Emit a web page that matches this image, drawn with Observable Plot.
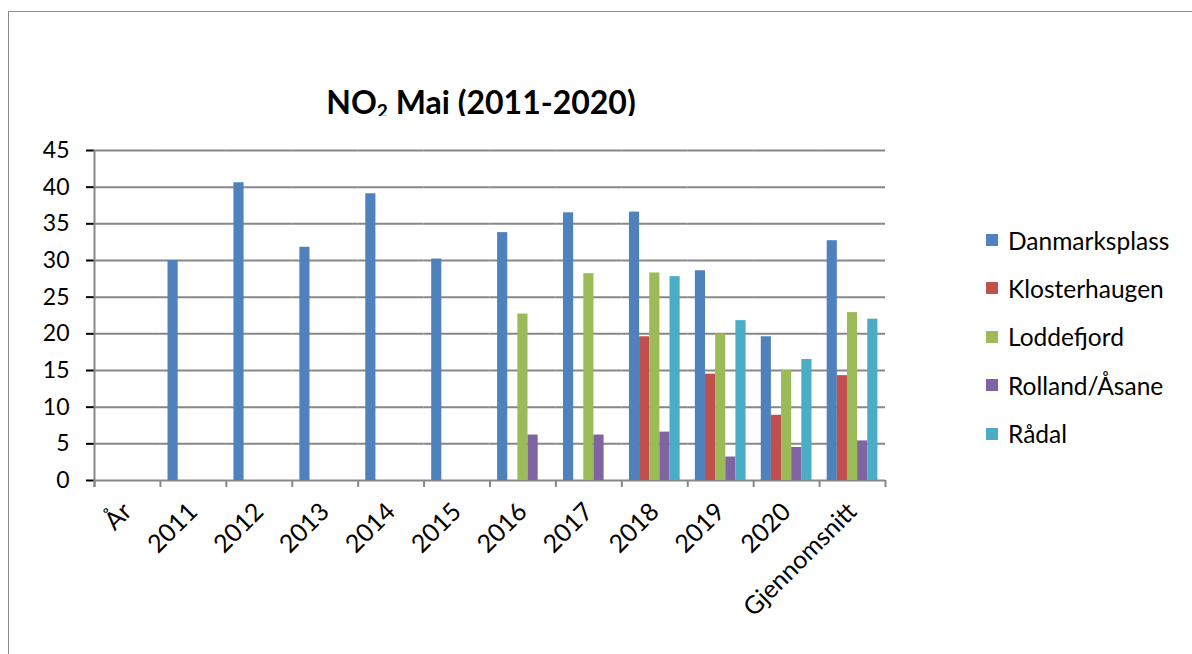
<!DOCTYPE html>
<html><head><meta charset="utf-8">
<script src="https://cdn.jsdelivr.net/npm/d3@7"></script>
<script src="https://cdn.jsdelivr.net/npm/@observablehq/plot@0.6"></script>
<style>
html,body{margin:0;padding:0;background:#fff;overflow:hidden;width:1192px;height:654px;}
#wrap{position:relative;width:1192px;height:654px;overflow:hidden;font-family:Lato,sans-serif;color:#000;}
#frame{position:absolute;left:8px;top:11px;width:1300px;height:800px;border:1.5px solid #8c8c8c;}
#chart{position:absolute;left:0;top:0;}
#title{position:absolute;left:0;width:962px;top:86px;height:30px;overflow:hidden;text-align:center;font-weight:bold;font-size:32px;line-height:32px;}
#title sub{font-size:60%;vertical-align:-4px;line-height:0;}
.lg{position:absolute;left:986px;height:26px;display:flex;align-items:center;font-size:24.5px;white-space:nowrap;}
.lg span.sw{display:inline-block;width:12px;height:12px;margin-right:10px;}
g[aria-label="y-axis tick"]{stroke:#878787;stroke-width:2;}
g[aria-label="fx-axis tick label"]{font-size:25px;}
</style></head>
<body><div id="wrap"><div id="frame"></div><div id="chart"></div><div id="title">NO<sub>2</sub> Mai (2011-2020)</div></div>
<script>
const categories = ["År","2011","2012","2013","2014","2015","2016","2017","2018","2019","2020","Gjennomsnitt"];
const seriesNames = ["Danmarksplass","Klosterhaugen","Loddefjord","Rolland/Åsane","Rådal"];
const seriesColors = ["#4F81BD","#C0504D","#9BBB59","#8064A2","#4BACC6"];
const danmarksplass = [null,30.0,40.6,31.8,39.1,30.2,33.8,36.5,36.6,28.6,19.6,32.7];
const klosterhaugen = [null,null,null,null,null,null,null,null,19.6,14.5,8.9,14.3];
const loddefjord   = [null,null,null,null,null,null,22.7,28.2,28.3,20.0,15.0,22.9];
const rollandAasane = [null,null,null,null,null,null,6.2,6.2,6.6,3.2,4.5,5.4];
const raadal       = [null,null,null,null,null,null,null,null,27.8,21.8,16.5,22.0];
const yTicks = [0,5,10,15,20,25,30,35,40,45];

const seriesValues = [danmarksplass, klosterhaugen, loddefjord, rollandAasane, raadal];
const rows = [];
seriesNames.forEach((s, si) => {
  seriesValues[si].forEach((v, ci) => {
    if (v != null) rows.push({category: categories[ci], series: s, value: v});
  });
});

const W = 1192, H = 654, mL = 94, mR = 307, mT = 150, mB = 174;
const fw = (W - mL - mR) / categories.length;
const gray = "#878787";

const chart = Plot.plot({
  width: W, height: H,
  marginLeft: mL, marginRight: mR, marginTop: mT, marginBottom: mB,
  style: {fontFamily: "Lato, sans-serif", fontSize: "23px", color: "#000", background: "transparent", overflow: "visible"},
  fx: {domain: categories, padding: 0, round: false, label: null, axis: "bottom", tickSize: 0, tickRotate: -45, tickPadding: 27},
  x: {domain: seriesNames, paddingInner: 0, paddingOuter: 0.75, round: false, axis: null},
  y: {domain: [0, 45], ticks: yTicks, tickSize: 8, tickPadding: 17, label: null},
  color: {domain: seriesNames, range: seriesColors},
  marks: [
    Plot.ruleY(yTicks, {stroke: gray, strokeWidth: 2}),
    Plot.barY(rows, {fx: "category", x: "series", y: "value", fill: "series"}),
    Plot.ruleX(categories, {fx: d => d, x: null, y1: 0, y2: 0, insetBottom: -7, dx: -fw / 2, stroke: gray, strokeWidth: 2}),
    Plot.ruleX([categories[0]], {fx: d => d, x: null, y1: 45, y2: 0, insetBottom: -7, dx: -fw / 2, stroke: gray, strokeWidth: 2}),
    Plot.ruleX([categories[categories.length - 1]], {fx: d => d, x: null, y1: 0, y2: 0, insetBottom: -7, dx: fw / 2, stroke: gray, strokeWidth: 2})
  ]
});
document.getElementById("chart").appendChild(chart);

const wrap = document.getElementById("wrap");
seriesNames.forEach((s, i) => {
  const d = document.createElement("div");
  d.className = "lg";
  d.style.top = (227 + i * 48.4) + "px";
  d.innerHTML = `<span class="sw" style="background:${seriesColors[i]}"></span><span>${s}</span>`;
  wrap.appendChild(d);
});
</script>
</body></html>
